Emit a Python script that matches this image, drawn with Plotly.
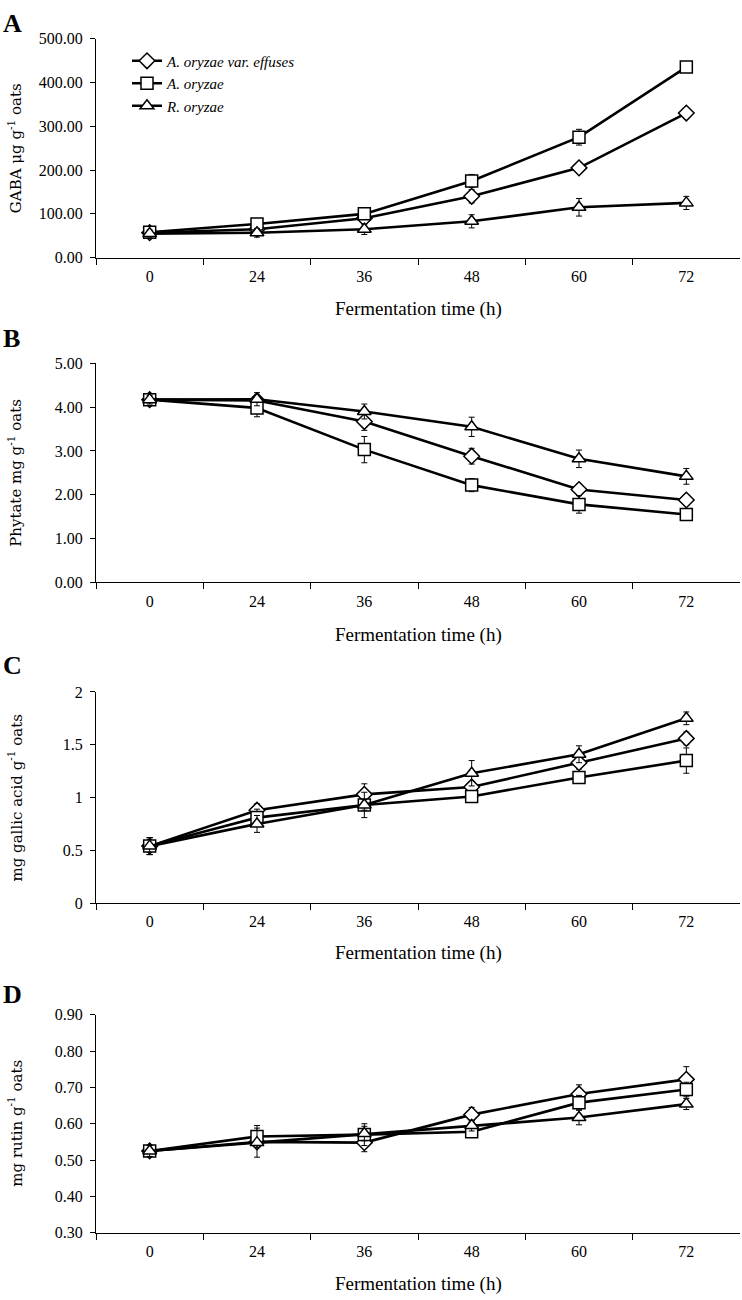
import plotly.graph_objects as go

times = ["0", "24", "36", "48", "60", "72"]
series_names = ["<i>A. oryzae var. effuses</i>", "<i>A. oryzae</i>", "<i>R. oryzae</i>"]

# Panel A: GABA (ug/g oats)
gaba_effuses = [57, 65, 90, 140, 205, 330]
gaba_oryzae = [58, 77, 100, 175, 275, 435]
gaba_rhizo = [55, 57, 65, 83, 115, 125]
gaba_err_effuses = [8, 8, 8, 15, 12, 10]
gaba_err_oryzae = [8, 10, 10, 15, 18, 10]
gaba_err_rhizo = [8, 10, 12, 15, 20, 15]

# Panel B: Phytate (mg/g oats)
phy_effuses = [4.17, 4.15, 3.67, 2.88, 2.12, 1.88]
phy_oryzae = [4.17, 3.98, 3.03, 2.22, 1.78, 1.55]
phy_rhizo = [4.17, 4.18, 3.90, 3.55, 2.82, 2.42]
phy_err_effuses = [0.1, 0.12, 0.2, 0.18, 0.12, 0.12]
phy_err_oryzae = [0.1, 0.2, 0.3, 0.15, 0.2, 0.1]
phy_err_rhizo = [0.1, 0.15, 0.17, 0.22, 0.2, 0.18]

# Panel C: mg gallic acid/g oats
gal_effuses = [0.54, 0.88, 1.03, 1.10, 1.33, 1.56]
gal_oryzae = [0.54, 0.81, 0.93, 1.01, 1.19, 1.35]
gal_rhizo = [0.54, 0.75, 0.93, 1.23, 1.41, 1.75]
gal_err_effuses = [0.08, 0.06, 0.1, 0.05, 0.06, 0.06]
gal_err_oryzae = [0.08, 0.08, 0.12, 0.04, 0.04, 0.12]
gal_err_rhizo = [0.08, 0.08, 0.05, 0.12, 0.08, 0.06]

# Panel D: mg rutin/g oats
rut_effuses = [0.525, 0.550, 0.548, 0.625, 0.682, 0.722]
rut_oryzae = [0.525, 0.565, 0.570, 0.578, 0.658, 0.694]
rut_rhizo = [0.525, 0.548, 0.573, 0.595, 0.617, 0.654]
rut_err_effuses = [0.015, 0.015, 0.025, 0.02, 0.025, 0.035]
rut_err_oryzae = [0.015, 0.03, 0.03, 0.015, 0.02, 0.02]
rut_err_rhizo = [0.015, 0.04, 0.02, 0.015, 0.02, 0.015]

FONT = "Liberation Serif"
W, H = 742, 1300


def py(y_px):
    return 1 - y_px / H


panels = [
    dict(vals=[gaba_effuses, gaba_oryzae, gaba_rhizo],
         errs=[gaba_err_effuses, gaba_err_oryzae, gaba_err_rhizo],
         top=31, bottom=253, rng=[0, 500], dtick=100, fmt=".2f",
         ytitle="GABA μg g<sup>-1</sup> oats", letter="A", letter_y=16,
         xtitle_y=305),
    dict(vals=[phy_effuses, phy_oryzae, phy_rhizo],
         errs=[phy_err_effuses, phy_err_oryzae, phy_err_rhizo],
         top=360, bottom=582, rng=[0, 5], dtick=1, fmt=".2f",
         ytitle="Phytate mg g<sup>-1</sup> oats", letter="B", letter_y=335,
         xtitle_y=635),
    dict(vals=[gal_effuses, gal_oryzae, gal_rhizo],
         errs=[gal_err_effuses, gal_err_oryzae, gal_err_rhizo],
         top=693, bottom=907, rng=[0, 2], dtick=0.5, fmt="",
         ytitle="mg gallic acid g<sup>-1</sup> oats", letter="C", letter_y=666,
         xtitle_y=958),
    dict(vals=[rut_effuses, rut_oryzae, rut_rhizo],
         errs=[rut_err_effuses, rut_err_oryzae, rut_err_rhizo],
         top=1020, bottom=1241, rng=[0.3, 0.9], dtick=0.1, fmt=".2f",
         ytitle="mg rutin g<sup>-1</sup> oats", letter="D", letter_y=1000,
         xtitle_y=1293),
]

symbols = ["diamond", "square", "triangle-up"]
sizes = [12, 12, 12]

fig = go.Figure()
annotations = []
layout_axes = {}
x0, x1 = 96 / W, 740 / W

for i, p in enumerate(panels):
    n = i + 1
    xa = "x" if n == 1 else f"x{n}"
    ya = "y" if n == 1 else f"y{n}"
    for j in range(3):
        fig.add_trace(go.Scatter(
            x=times, y=p["vals"][j], xaxis=xa, yaxis=ya,
            mode="lines+markers", name=series_names[j],
            showlegend=(n == 1),
            line=dict(color="black", width=2.6),
            marker=dict(symbol=symbols[j], size=sizes[j], color="white",
                        line=dict(color="black", width=1.5)),
            error_y=dict(type="data", array=p["errs"][j], color="black",
                         thickness=1, width=3),
        ))
    dom = [py(p["bottom"]), py(p["top"])]
    xkey = "xaxis" if n == 1 else f"xaxis{n}"
    ykey = "yaxis" if n == 1 else f"yaxis{n}"
    layout_axes[xkey] = dict(
        domain=[x0, x1], anchor=ya, type="category", range=[-0.5, 5.5],
        tickson="boundaries", ticks="outside", ticklen=6, tickcolor="black",
        showline=True, linecolor="black", linewidth=1.2, showgrid=False,
        zeroline=False, ticklabelstandoff=4,
        tickfont=dict(family=FONT, size=16, color="black"),
    )
    ykw = dict(
        domain=dom, anchor=xa, range=p["rng"], dtick=p["dtick"],
        ticks="outside", ticklen=5, tickcolor="black",
        showline=True, linecolor="black", linewidth=1.2, showgrid=False,
        zeroline=False, ticklabelstandoff=4,
        tickfont=dict(family=FONT, size=16, color="black"),
    )
    if p["fmt"]:
        ykw["tickformat"] = p["fmt"]
    layout_axes[ykey] = ykw
    # panel letter
    annotations.append(dict(text=f"<b>{p['letter']}</b>", xref="paper", yref="paper",
                            x=1 / W, y=py(p["letter_y"]), xanchor="left", yanchor="middle",
                            showarrow=False, font=dict(family=FONT, size=26, color="black")))
    # y title
    annotations.append(dict(text=p["ytitle"], xref="paper", yref="paper",
                            x=15 / W, y=py((p["top"] + p["bottom"]) / 2),
                            xanchor="center", yanchor="middle", textangle=-90,
                            showarrow=False, font=dict(family="DejaVu Serif", size=15, color="black")))
    # x title
    annotations.append(dict(text="Fermentation time (h)", xref="paper", yref="paper",
                            x=(96 + 740) / 2 / W, y=py(p["xtitle_y"]),
                            xanchor="center", yanchor="middle",
                            showarrow=False, font=dict(family=FONT, size=19, color="black")))

fig.update_layout(
    width=W, height=H,
    margin=dict(l=0, r=0, t=0, b=0),
    paper_bgcolor="white", plot_bgcolor="white",
    font=dict(family=FONT, color="black"),
    annotations=annotations,
    legend=dict(x=127 / W, y=py(37), xanchor="left", yanchor="top",
                bgcolor="rgba(0,0,0,0)", itemwidth=30,
                font=dict(family=FONT, size=15, color="black")),
    **layout_axes,
)

fig.write_html("out.html", config={"displayModeBar": False},
               post_script="document.body.style.margin='0';")
